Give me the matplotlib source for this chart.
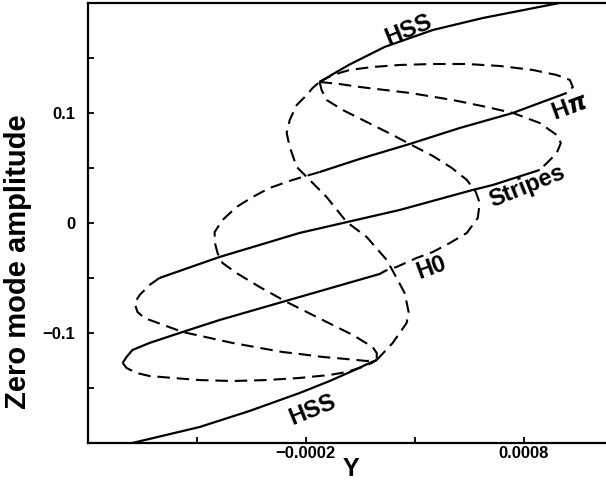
import numpy as np
import matplotlib
matplotlib.use('Agg')
import matplotlib.pyplot as plt
from matplotlib.ticker import FixedLocator

plt.rcParams['font.family'] = ['Liberation Sans', 'DejaVu Sans']
plt.rcParams['font.weight'] = 'bold'
plt.rcParams['mathtext.fontset'] = 'dejavusans'

# x values are in units of 1e-4 (Y), y values are zero mode amplitude
# HSS branch: lower stable, middle unstable, upper stable
hss_low_x = [-9.94, -6.86, -4.57, -2.28, -0.90, 0.34, 1.03, 1.26]
hss_low_y = [-0.1997, -0.1852, -0.1706, -0.1543, -0.1434, -0.1325, -0.1261, -0.1243]
hss_mid_x = [1.26, 1.99, 2.63, 2.72, 2.54, 2.17, 1.72, 0.80, -0.12, -1.04, -1.95,
             -2.41, -2.73, -2.87, -2.73, -2.41, -1.95, -1.68, -1.36]
hss_mid_y = [-0.1243, -0.1088, -0.0906, -0.0806, -0.0634, -0.0497, -0.0334, -0.0125,
             0.0012, 0.0239, 0.0421, 0.0512, 0.0694, 0.0821, 0.0939, 0.1075, 0.1166,
             0.1230, 0.1285]
hss_up_x = [-1.36, -0.62, 0.02, 1.62, 3.83, 6.12, 9.65]
hss_up_y = [0.1285, 0.1371, 0.1444, 0.1603, 0.1757, 0.1866, 0.2003]

# H pi branch
hpi_d1_x = [-1.36, -0.76, 0.02, 1.07, 2.31, 3.83, 5.39, 6.90, 8.41, 9.51, 10.11, 10.25, 9.97]
hpi_d1_y = [0.1285, 0.1348, 0.1394, 0.1421, 0.1439, 0.1448, 0.1448, 0.1430, 0.1394,
            0.1348, 0.1303, 0.1239, 0.1185]
hpi_s_x = [9.97, 8.73, 7.50, 5.06, 2.77, 0.48, -1.36]
hpi_s_y = [0.1185, 0.1094, 0.1003, 0.0866, 0.0721, 0.0585, 0.0466]
hpi_d2_x = [-1.36, -2.60, -3.65, -4.43, -5.17, -5.81, -6.17, -6.17, -6.04, -5.81,
            -5.17, -4.11, -2.87, -1.22, 0.16, 1.07, 1.26, 1.26]
hpi_d2_y = [0.0466, 0.0394, 0.0321, 0.0239, 0.0148, 0.0030, -0.0079, -0.0170, -0.0270,
            -0.0361, -0.0452, -0.0579, -0.0715, -0.0879, -0.1015, -0.1125, -0.1179, -0.1243]

# Stripes branch
st_d1_x = [-1.36, -0.44, 0.48, 2.77, 4.74, 6.30, 7.50, 8.73, 9.51, 9.70, 9.51, 9.06, 8.73]
st_d1_y = [0.1285, 0.1266, 0.1239, 0.1185, 0.1121, 0.1057, 0.1003, 0.0912, 0.0803,
           0.0730, 0.0639, 0.0548, 0.0485]
st_s_x = [8.73, 6.58, 5.66, 2.31, -2.28, -5.94, -8.70]
st_s_y = [0.0485, 0.0348, 0.0303, 0.0121, -0.0088, -0.0306, -0.0497]
st_d2_x = [-8.70, -9.16, -9.61, -9.84, -9.71, -9.39, -7.64, -5.35, -3.06, -2.28,
           -1.22, -0.12, 0.80, 1.26]
st_d2_y = [-0.0497, -0.0561, -0.0652, -0.0725, -0.0806, -0.0861, -0.0988, -0.1088,
           -0.1170, -0.1188, -0.1215, -0.1234, -0.1252, -0.1243]

# H0 branch
h0_d1_x = [-1.36, -1.27, -1.04, -0.30, 0.80, 1.99, 2.77, 3.83, 4.70, 5.39, 5.80, 5.98,
           5.89, 5.39, 4.61, 3.83, 3.09, 2.17, 1.72]
h0_d1_y = [0.1285, 0.1212, 0.1121, 0.1030, 0.0921, 0.0803, 0.0721, 0.0612, 0.0503,
           0.0394, 0.0285, 0.0185, 0.0048, -0.0088, -0.0179, -0.0261, -0.0315, -0.0397,
           -0.0425]
h0_s_x = [1.72, 1.39, -2.28, -5.94, -7.64, -9.16, -9.94, -10.21, -10.39]
h0_s_y = [-0.0425, -0.0461, -0.0670, -0.0879, -0.0988, -0.1088, -0.1152, -0.1215, -0.1270]
h0_d2_x = [-10.39, -10.21, -9.75, -9.16, -8.10, -6.86, -5.35, -3.79, -2.28, -0.90,
           -0.12, 0.61, 1.03, 1.26]
h0_d2_y = [-0.1270, -0.1315, -0.1361, -0.1388, -0.1406, -0.1425, -0.1434, -0.1425,
           -0.1406, -0.1379, -0.1352, -0.1306, -0.1270, -0.1243]

xticks_major = [-0.0002, 0.0008]
xtick_labels = ['\u22120.0002', '0.0008']
xticks_minor = [-0.0007, 0.0003]
yticks_major = [-0.1, 0.0, 0.1]
ytick_labels = ['\u22120.1', '0', '0.1']
yticks_minor = [-0.15, -0.05, 0.05, 0.15]

fig = plt.figure(figsize=(6.06, 4.82), dpi=100)
ax = fig.add_axes([0.1444, 0.0803, 0.8639, 0.9129])

solid = dict(color='black', lw=1.6, solid_capstyle='butt', solid_joinstyle='round')
dashed = dict(color='black', lw=1.5, linestyle=(0, (6, 3.3)))

def xs(v):
    return np.array(v) * 1e-4

ax.plot(xs(hss_low_x), hss_low_y, **solid)
ax.plot(xs(hss_mid_x), hss_mid_y, **dashed)
ax.plot(xs(hss_up_x), hss_up_y, **solid)

ax.plot(xs(hpi_d1_x), hpi_d1_y, **dashed)
ax.plot(xs(hpi_s_x), hpi_s_y, **solid)
ax.plot(xs(hpi_d2_x), hpi_d2_y, **dashed)

ax.plot(xs(st_d1_x), st_d1_y, **dashed)
ax.plot(xs(st_s_x), st_s_y, **solid)
ax.plot(xs(st_d2_x), st_d2_y, **dashed)

ax.plot(xs(h0_d1_x), h0_d1_y, **dashed)
ax.plot(xs(h0_s_x), h0_s_y, **solid)
ax.plot(xs(h0_d2_x), h0_d2_y, **dashed)

ax.set_xlim(-0.0012, 0.0012)
ax.set_ylim(-0.2, 0.2)

ax.xaxis.set_major_locator(FixedLocator(xticks_major))
ax.xaxis.set_minor_locator(FixedLocator(xticks_minor))
ax.set_xticklabels(xtick_labels)
ax.yaxis.set_major_locator(FixedLocator(yticks_major))
ax.yaxis.set_minor_locator(FixedLocator(yticks_minor))
ax.set_yticklabels(ytick_labels)

ax.tick_params(which='both', direction='in', length=4, width=1.3)
ax.tick_params(axis='x', pad=2, labelsize=12)
ax.tick_params(axis='y', pad=9, labelsize=12)
for lab in ax.get_xticklabels() + ax.get_yticklabels():
    lab.set_fontweight('bold')
for sp in ax.spines.values():
    sp.set_linewidth(1.6)
ax.spines['right'].set_visible(False)

# branch labels
lbl = dict(fontsize=17, fontweight='bold', ha='center', va='center',
           rotation_mode='anchor')
ax.text(2.72e-4, 0.1757, 'HSS', rotation=22, **lbl)
ax.text(-1.68e-4, -0.1697, 'HSS', rotation=22, **lbl)
ax.text(10.11e-4, 0.1048, 'H$\\pi$', rotation=20, **lbl)
ax.text(8.14e-4, 0.0339, 'Stripes', rotation=22, **lbl)
ax.text(3.78e-4, -0.0406, 'H0', rotation=20, **lbl)

fig.text(18.5 / 606, 1 - 262 / 482, 'Zero mode amplitude', rotation=90,
         ha='center', va='center', fontsize=21, fontweight='bold')
fig.text(351 / 606, 0.5 / 482, 'Y', ha='center', va='bottom',
         fontsize=18, fontweight='bold')

fig.savefig('out.png', dpi=100)
